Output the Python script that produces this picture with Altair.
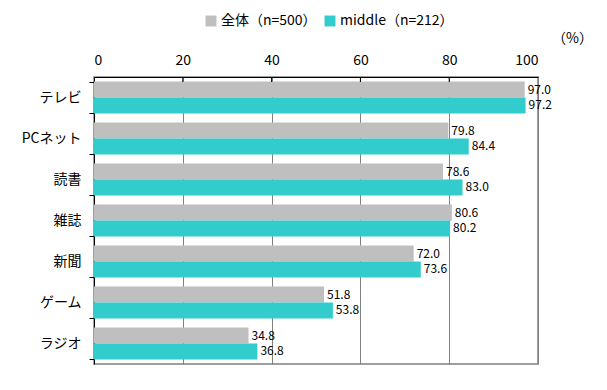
import altair as alt
import pandas as pd

categories = ["テレビ", "PCネット", "読書", "雑誌", "新聞", "ゲーム", "ラジオ"]
series_names = ["全体（n=500）", "middle（n=212）"]
all_values = [97.0, 79.8, 78.6, 80.6, 72.0, 51.8, 34.8]
middle_values = [97.2, 84.4, 83.0, 80.2, 73.6, 53.8, 36.8]
x_ticks = [0, 20, 40, 60, 80, 100]
colors = ["#BFBFBF", "#33CCCC"]

rows = []
for i, c in enumerate(categories):
    rows.append({"cat": c, "series": series_names[0], "value": all_values[i]})
    rows.append({"cat": c, "series": series_names[1], "value": middle_values[i]})
df = pd.DataFrame(rows)
ticks_df = pd.DataFrame({"t": x_ticks[1:-1]})

FONT = "Noto Sans CJK JP"

y_enc = alt.Y("cat:N", sort=categories,
              scale=alt.Scale(paddingInner=0.22, paddingOuter=0.11),
              axis=alt.Axis(title=None, labelFontSize=14, labelFont=FONT, labelColor="#000000",
                            domainColor="#000000", tickColor="#000000", tickBand="extent",
                            tickSize=5, labelPadding=8, grid=False))
x_enc = alt.X("value:Q", scale=alt.Scale(domain=[0, 100], nice=False),
              axis=alt.Axis(orient="top", values=x_ticks, title="（%）", titleAngle=0,
                            titleX=478, titleY=-32, titleFontSize=14, titleFontWeight="normal",
                            titleFont=FONT, labelFont=FONT, labelFontSize=14, labelColor="#000000",
                            domainColor="#000000", ticks=False, labelPadding=10,
                            grid=True, gridColor="#808080", gridWidth=1))
off = alt.YOffset("series:N", sort=series_names)
color = alt.Color("series:N", sort=series_names,
                  scale=alt.Scale(domain=series_names, range=colors),
                  legend=alt.Legend(title=None, orient="none", legendX=110, legendY=-63,
                                    direction="horizontal", symbolType="square", symbolSize=120,
                                    symbolStrokeWidth=0, labelFontSize=14, labelFont=FONT,
                                    labelColor="#000000", columnPadding=6, labelOffset=3))

bars = alt.Chart(df).mark_bar(size=16).encode(x=x_enc, y=y_enc, yOffset=off, color=color)
labels = alt.Chart(df).mark_text(align="left", baseline="middle", dx=3, fontSize=12,
                                 font=FONT, color="#000000").encode(
    x=alt.X("value:Q"), y=alt.Y("cat:N", sort=categories), yOffset=off,
    text=alt.Text("value:Q", format=".1f"))
top_ticks = alt.Chart(ticks_df).mark_rule(color="#000000", strokeWidth=1).encode(
    x=alt.X("t:Q"), y=alt.value(0), y2=alt.value(5))

chart = alt.layer(bars, labels, top_ticks).properties(
    width=444, height=287,
    autosize=alt.AutoSizeParams(type="none"),
    padding={"left": 86, "top": 69, "right": 60, "bottom": 10},
    background="#FFFFFF",
).configure_view(stroke="#808080", strokeWidth=1.5)

chart.save("out.html", embed_options={"renderer": "svg", "actions": False})
